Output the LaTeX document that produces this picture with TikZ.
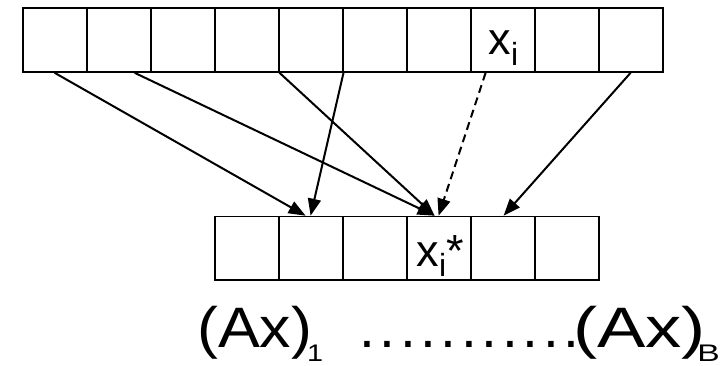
\documentclass[tikz,border=0pt]{standalone}
\usepackage{fontspec}
\setmainfont{Liberation Sans}
\usetikzlibrary{arrows.meta}
\newcommand{\subsz}{\fontsize{24}{24}\selectfont}
\begin{document}
\begin{tikzpicture}[x=1pt,y=-1pt,
  cell/.style={draw, line width=1.8pt, minimum width=64pt, minimum height=63.5pt, inner sep=0pt, anchor=north west},
  arr/.style={line width=2pt, -{Triangle[length=17pt,width=13pt]}},
  lbl/.style={inner sep=0pt, anchor=base west},
  big/.style={font=\fontsize{57}{57}\selectfont},
]
\useasboundingbox (0,0) rectangle (721,366);
% top array
\foreach \i in {1,...,10} \node[cell] (t\i) at ({21.7+64*(\i-1)},7.5) {};
% bottom array
\foreach \i in {1,...,6} \node[cell] (b\i) at ({213.7+64*(\i-1)},215.7) {};
% labels in cells
\node[lbl, font=\fontsize{45}{45}\selectfont] (xi) at (488.5,55) {x\raisebox{-11pt}{\fontsize{32}{32}\selectfont i}};
\node[lbl, font=\fontsize{45}{45}\selectfont] (xis) at (416.5,267) {x\raisebox{-10pt}{\fontsize{32}{32}\selectfont i}*};
% arrows
\draw[arr] (t1.south) -- ([xshift=-5pt]b2.north);
\draw[arr] ([xshift=16pt]t2.south) -- ([xshift=-4pt]b4.north);
\draw[arr] (t4.south east) -- ([xshift=-4pt]b4.north);
\draw[arr] (t5.south east) -- (b2.north);
\draw[arr, dash pattern=on 8pt off 5pt] ([xshift=-17pt]t8.south) -- (b4.north);
\draw[arr] (t10.south) -- ([xshift=1pt]b5.north);
% bottom text
\node[lbl, big] (ax1) at (197,348) {\scalebox{1.1}[1]{(Ax)}\kern-5pt\raisebox{-14pt}{\subsz\scalebox{1.2}[1]{1}}};
\node[lbl, big] (dots) at (359,348) {.\kern4.6pt.\kern4.6pt.\kern4.6pt.\kern4.6pt.\kern4.6pt.\kern4.6pt.\kern4.6pt.\kern4.6pt.\kern4.6pt.\kern4.6pt.};
\node[lbl, big] (axB) at (573,348) {\scalebox{1.27}[1]{(Ax)}\kern-8.5pt\raisebox{-14pt}{\subsz\scalebox{1.4}[1]{B}}};
\end{tikzpicture}
\end{document}
